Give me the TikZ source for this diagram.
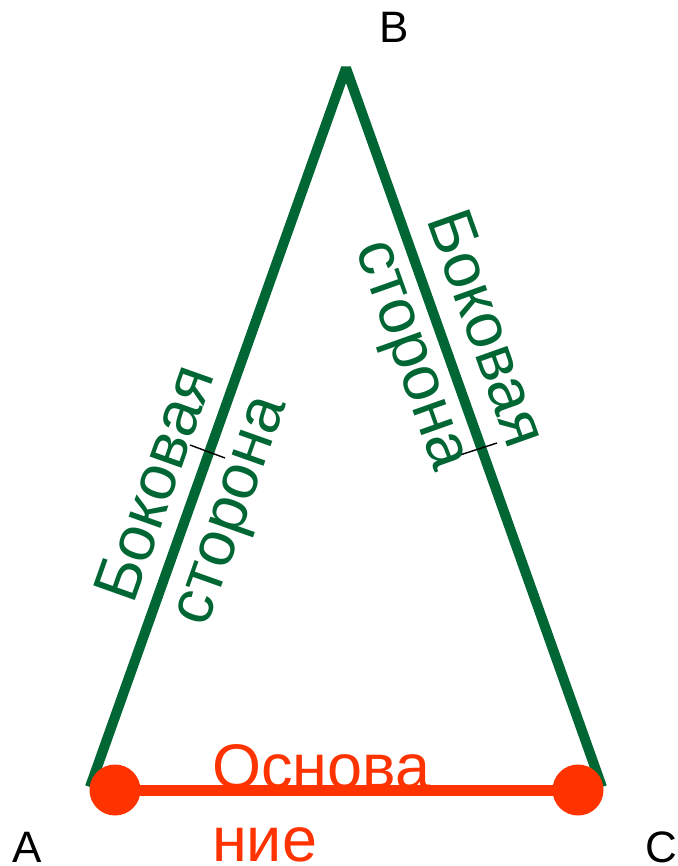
\documentclass[tikz,border=0pt]{standalone}
\usepackage{fontspec}
\setmainfont{Liberation Sans}
\definecolor{sidegreen}{HTML}{006633}
\definecolor{baseorange}{HTML}{FF3300}
\tikzset{
    sideline/.style={draw=sidegreen, line width=10pt, line join=bevel},
    baseline/.style={draw=baseorange, line width=11pt},
    enddot/.style={fill=baseorange, circle, minimum size=51pt, inner sep=0pt},
    tickmark/.style={draw=black, line width=1.4pt},
    sidelabel/.style={text=sidegreen, align=center, inner sep=0pt,
        font=\fontsize{64}{77}\selectfont},
    baselabel/.style={text=baseorange, inner sep=0pt, anchor=base west,
        font=\fontsize{63}{73}\selectfont},
    vertex/.style={inner sep=0pt, anchor=base west, font=\fontsize{44}{50}\selectfont}
}
\begin{document}
\begin{tikzpicture}[x=1pt, y=-1pt]
    \useasboundingbox (0,0) rectangle (677,866);
    % vertices
    \coordinate (A) at (90,787);
    \coordinate (B) at (346,68);
    \coordinate (C) at (602,787);
    % sides
    \draw[sideline] (A) -- (B) -- (C);
    % ticks on the sides
    \draw[tickmark] (190,445) -- (225,458);
    \draw[tickmark] (460,455) -- (497,443);
    % base
    \node[enddot] (leftdot) at (115,790) {};
    \node[enddot] (rightdot) at (578,790) {};
    \draw[baseline] (leftdot.center) -- (rightdot.center);
    % labels
    \node[sidelabel, rotate=70.45] (leftside) at (196,498) {Боковая\\сторона};
    \node[sidelabel, rotate=-70.45] (rightside) at (446,343) {Боковая\\сторона};
    \node[baselabel] (basetop) at (212,788) {Основа};
    \node[baselabel] (basebottom) at (212,861) {ние};
    \node[vertex] (labelA) at (12,862) {A};
    \node[vertex] (labelB) at (379,43) {B};
    \node[vertex] (labelC) at (645,862) {C};
\end{tikzpicture}
\end{document}
